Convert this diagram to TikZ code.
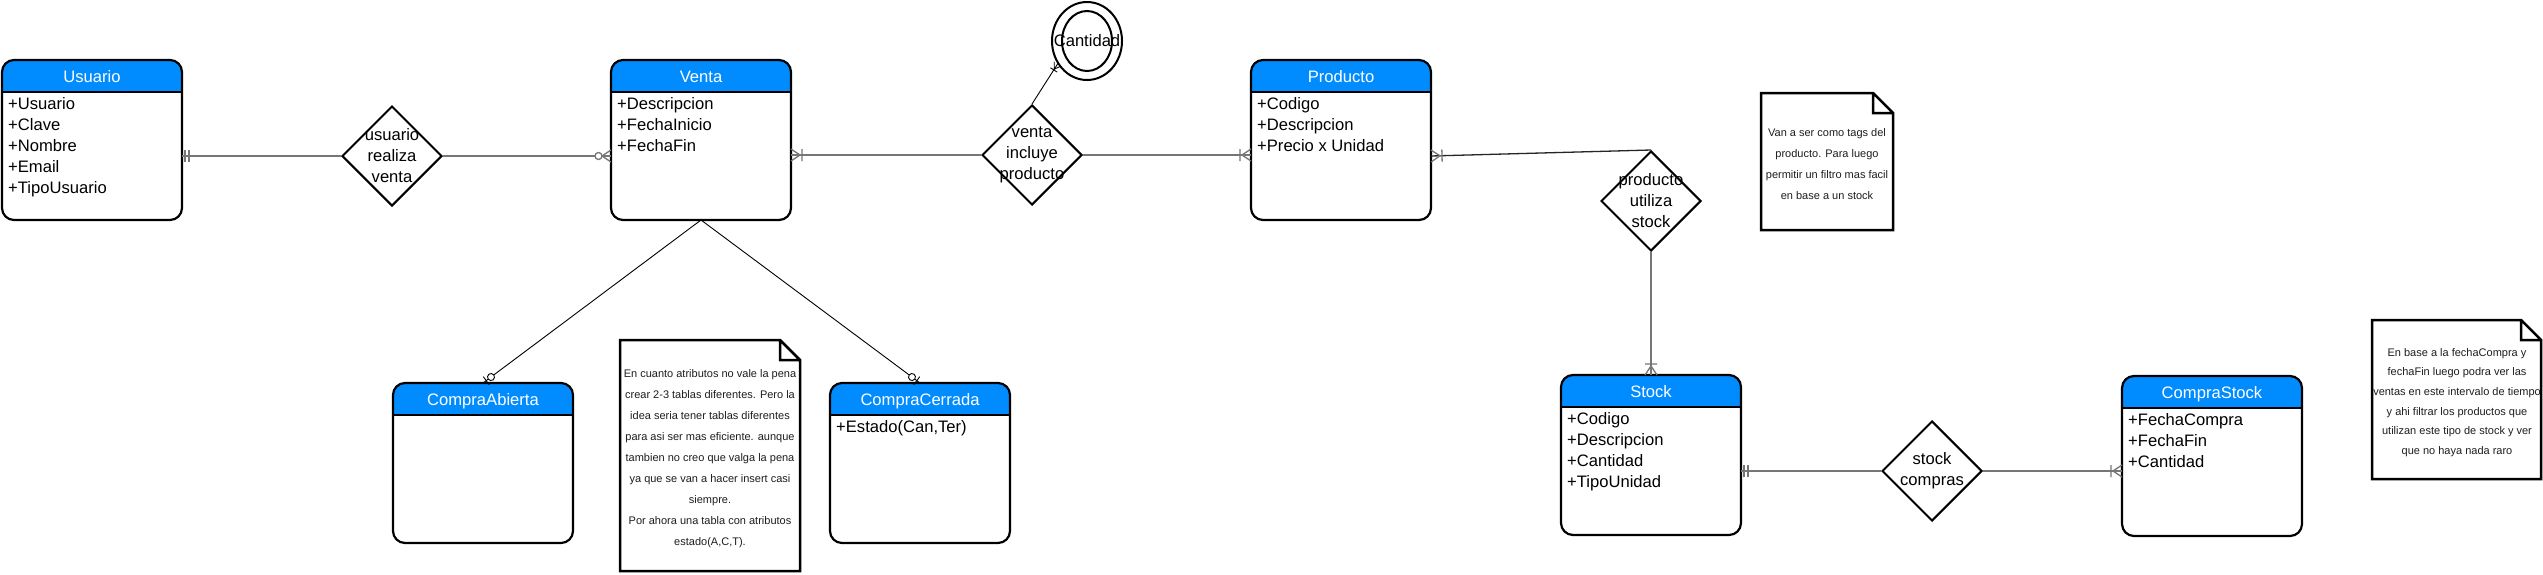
\documentclass[tikz,border=0pt]{standalone}
\usepackage{fontspec}
\setmainfont{Liberation Sans}
\usetikzlibrary{shapes.geometric,calc}
\definecolor{hdr}{RGB}{0,140,255}
\definecolor{lgray}{RGB}{118,118,118}
\definecolor{ntxt}{RGB}{30,30,30}
\newcommand\ermark[3]{\path let \p1=#2, \p2=#3, \n1={atan2(\y2-\y1,\x2-\x1)} in (\p1) pic[rotate=\n1]{#1};}
\begin{document}
\begin{tikzpicture}[x=1pt,y=-1pt,
  entity/.style={draw, line width=2.2pt, rounded corners=12pt, minimum width=180pt, minimum height=160pt,
    inner sep=0pt, outer sep=0pt, fill=white,
    path picture={\fill[hdr, sharp corners] (path picture bounding box.north west) rectangle ([yshift=-32pt]path picture bounding box.north east);
      \draw[line width=2.2pt, sharp corners] ([yshift=-32pt]path picture bounding box.north west) -- ([yshift=-32pt]path picture bounding box.north east);}},
  hdrtext/.style={text=white, font=\fontsize{16.6}{20}\selectfont, inner sep=0pt, anchor=base},
  attr/.style={font=\fontsize{16.6}{21}\selectfont, align=left, inner sep=0pt, anchor=north west},
  rel/.style={draw, diamond, aspect=1, line width=2pt, minimum width=100pt, minimum height=100pt, inner sep=0pt, fill=white},
  reltext/.style={font=\fontsize{16.6}{21}\selectfont, align=center, inner sep=0pt},
  conn/.style={draw=lgray, line width=2pt},
  conn2/.style={draw=black!85, line width=1.3pt},
  thin1/.style={draw=black, line width=0.9pt},
  ermk/.style={draw=lgray, line width=1.3pt},
  ermkthin/.style={draw=black, line width=0.9pt},
  notebd/.style={draw=black, line width=2.5pt, line join=miter},
  notetxt/.style={font=\fontsize{11}{21}\selectfont, text=ntxt, align=center, inner sep=0pt, anchor=north},
  mandone/.pic={\draw[ermk] (3,-6)--(3,6) (7,-6)--(7,6);},
  onemany/.pic={\draw[ermk] (0,-6)--(9,0)--(0,6) (11,-6)--(11,6);},
  zeromany/.pic={\draw[ermk] (0,-6)--(9,0)--(0,6); \draw[ermk,fill=white] (12.5,0) circle (3.5);},
  zeroone/.pic={\draw[ermkthin] (4,-5)--(4,5); \draw[ermkthin,fill=white] (10,0) circle (3.5);},
  smallmany/.pic={\draw[ermkthin] (0,-4)--(6,0)--(0,4) (7,-4)--(7,4);}
]
\useasboundingbox[fill=white] (0,0) rectangle (2543,574);

% ---------- entities ----------
\node[entity] (usuario) at (92,140) {};
\node[hdrtext] (usuario-h) at ([yshift=-22pt]usuario.north) {Usuario};
\node[attr] (usuario-a) at ([xshift=6pt,yshift=-37pt]usuario.north west) {+Usuario\\+Clave\\+Nombre\\+Email\\+TipoUsuario};

\node[entity] (venta) at (701,140) {};
\node[hdrtext] (venta-h) at ([yshift=-22pt]venta.north) {Venta};
\node[attr] (venta-a) at ([xshift=6pt,yshift=-37pt]venta.north west) {+Descripcion\\+FechaInicio\\+FechaFin};

\node[entity] (producto) at (1341,140) {};
\node[hdrtext] (producto-h) at ([yshift=-22pt]producto.north) {Producto};
\node[attr] (producto-a) at ([xshift=6pt,yshift=-37pt]producto.north west) {+Codigo\\+Descripcion\\+Precio x Unidad};

\node[entity] (stock) at (1651,455) {};
\node[hdrtext] (stock-h) at ([yshift=-22pt]stock.north) {Stock};
\node[attr] (stock-a) at ([xshift=6pt,yshift=-37pt]stock.north west) {+Codigo\\+Descripcion\\+Cantidad\\+TipoUnidad};

\node[entity] (comprastock) at (2212,456) {};
\node[hdrtext] (comprastock-h) at ([yshift=-22pt]comprastock.north) {CompraStock};
\node[attr] (comprastock-a) at ([xshift=6pt,yshift=-37pt]comprastock.north west) {+FechaCompra\\+FechaFin\\+Cantidad};

\node[entity] (compraabierta) at (483,463) {};
\node[hdrtext] (compraabierta-h) at ([yshift=-22pt]compraabierta.north) {CompraAbierta};

\node[entity] (compracerrada) at (920,463) {};
\node[hdrtext] (compracerrada-h) at ([yshift=-22pt]compracerrada.north) {CompraCerrada};
\node[attr] (compracerrada-a) at ([xshift=6pt,yshift=-37pt]compracerrada.north west) {+Estado(Can,Ter)};

% ---------- relationships ----------
\node[rel] (r1) at (392,156) {};
\node[reltext] (r1-t) at (r1) {usuario\\realiza\\venta};
\node[rel] (r2) at (1032,155) {};
\node[reltext] (r2-t) at (r2) {venta\\incluye\\producto};
\node[rel] (r3) at (1651,201) {};
\node[reltext] (r3-t) at (r3) {producto\\utiliza\\stock};
\node[rel] (r4) at (1932,471) {};
\node[reltext] (r4-t) at (r4) {stock\\compras};

% ---------- attribute Cantidad ----------
\node[draw, ellipse, line width=2pt, minimum width=70pt, minimum height=78pt, inner sep=0pt] (cant-o) at (1087,41) {};
\node[draw, ellipse, line width=2pt, minimum width=50pt, minimum height=60pt, inner sep=0pt] (cant-i) at (cant-o) {};
\node[reltext] (cant-t) at (cant-o) {Cantidad};

% ---------- connectors ----------
\draw[conn] (r1.west) -- (r1.west -| usuario.east);
\draw[conn] (r1.east) -- (r1.east -| venta.west);
\draw[conn] (r2.west) -- (r2.west -| venta.east);
\draw[conn] (r2.east) -- (r2.east -| producto.west);
\draw[conn2] ([yshift=-16pt]producto.east) -- (r3.north);
\draw[conn] (r3.south) -- (stock.north);
\draw[conn] (r4.west) -- (r4.west -| stock.east);
\draw[conn] (r4.east) -- (r4.east -| comprastock.west);
\draw[thin1] (venta.south) -- (compraabierta.north);
\draw[thin1] (venta.south) -- (compracerrada.north);
\draw[thin1] (r2.north) -- (cant-o.218);

% ---------- ER end marks ----------
\ermark{mandone}{(r1.west -| usuario.east)}{(r1.west)}
\ermark{zeromany}{(r1.east -| venta.west)}{(r1.east)}
\ermark{onemany}{(r2.west -| venta.east)}{(r2.west)}
\ermark{onemany}{(r2.east -| producto.west)}{(r2.east)}
\ermark{onemany}{([yshift=-16pt]producto.east)}{(r3.north)}
\ermark{onemany}{(stock.north)}{(r3.south)}
\ermark{mandone}{(r4.west -| stock.east)}{(r4.west)}
\ermark{onemany}{(r4.east -| comprastock.west)}{(r4.east)}
\ermark{zeroone}{(compraabierta.north)}{(venta.south)}
\ermark{zeroone}{(compracerrada.north)}{(venta.south)}
\ermark{smallmany}{(cant-o.218)}{(r2.north)}

% ---------- notes ----------
\draw[notebd] (620,340) -- (780,340) -- (800,360) -- (800,571) -- (620,571) -- cycle
  (780,340) -- (780,360) -- (800,360);
\node[notetxt] (note1) at (710,369) {En cuanto atributos no vale la pena\\crear 2-3 tablas diferentes. Pero la\\idea seria tener tablas diferentes\\para asi ser mas eficiente. aunque\\tambien no creo que valga la pena\\ya que se van a hacer insert casi\\siempre.\\Por ahora una tabla con atributos\\estado(A,C,T).};

\draw[notebd] (1761,93) -- (1873,93) -- (1893,113) -- (1893,230) -- (1761,230) -- cycle
  (1873,93) -- (1873,113) -- (1893,113);
\node[notetxt] (note2) at (1827,128) {Van a ser como tags del\\producto. Para luego\\permitir un filtro mas facil\\en base a un stock};

\draw[notebd] (2372,320) -- (2521,320) -- (2541,340) -- (2541,479) -- (2372,479) -- cycle
  (2521,320) -- (2521,340) -- (2541,340);
\node[notetxt, font=\fontsize{11}{19.7}\selectfont] (note3) at (2457,348) {En base a la fechaCompra y\\fechaFin luego podra ver las\\ventas en este intervalo de tiempo\\y ahi filtrar los productos que\\utilizan este tipo de stock y ver\\que no haya nada raro};
\end{tikzpicture}
\end{document}
